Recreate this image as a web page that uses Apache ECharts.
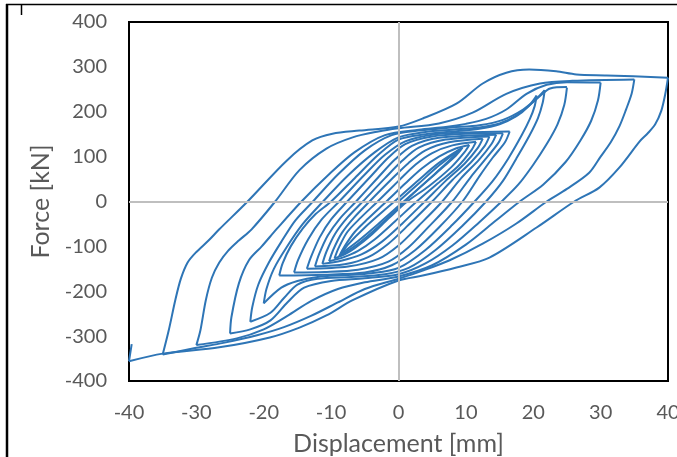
<!DOCTYPE html>
<html>
<head>
<meta charset="utf-8">
<script src="https://cdn.jsdelivr.net/npm/echarts@6/dist/echarts.min.js"></script>
<style>
  html, body { margin: 0; padding: 0; background: #fff; }
  #chart { width: 677px; height: 457px; }
</style>
</head>
<body>
<div id="chart"></div>
<script>
// axis ranges
const xMin = -40, xMax = 40, xStep = 10;
const yMin = -400, yMax = 400, yStep = 100;

// loading branches [displacement mm, force kN], from previous negative peak to positive peak
const loadingBranches = [
  [[0,0],[3,40],[6,80],[9,115]],
  [[-8.5,-116],[-7.5,-96],[-5,-58],[-2,-18],[0,8],[3,48],[6,86],[9.5,120]],
  [[-8.8,-122],[-8,-100],[-6.5,-68],[-4.5,-38],[-1.8,0],[1,40],[3.5,74],[6,100],[8.5,118],[10.5,126]],
  [[-9.5,-127],[-8.9,-104],[-7.6,-68],[-5.6,-36],[-3.1,0],[0,46],[2.5,82],[5,108],[8,125],[11.5,133]],
  [[-10.3,-133],[-9.7,-108],[-8.4,-70],[-6.6,-36],[-4.3,0],[-1,50],[1.5,86],[4,114],[7.5,132],[12.5,140]],
  [[-11.3,-139],[-10.7,-112],[-9.4,-72],[-7.6,-36],[-5.3,0],[-2,52],[0.5,90],[3,120],[7,138],[13.5,145]],
  [[-12.4,-145],[-11.8,-118],[-10.5,-76],[-8.7,-38],[-6.3,0],[-3,54],[-0.5,94],[2,124],[6,142],[14.5,149]],
  [[-13.6,-150],[-13,-124],[-11.7,-80],[-10,-40],[-7.6,0],[-4,58],[-1.5,98],[1,128],[5,145],[10,151],[15.5,152]],
  [[-15.5,-158],[-14.9,-130],[-13.4,-84],[-11.4,-40],[-8.8,0],[-5,60],[-2,104],[1,134],[5,149],[10,154],[16.5,156]],
  [[-17.7,-165],[-17.2,-138],[-16,-100],[-14.2,-60],[-12.3,-28],[-10,0],[-6.5,52],[-3,104],[0,138],[4,150],[8,156],[12,162],[15,172],[17.5,190],[19.3,212],[20.5,236]],
  [[-20,-227],[-19.6,-195],[-18.5,-150],[-16.7,-104],[-14.2,-50],[-11.2,0],[-7.5,58],[-3.5,110],[0,143],[4,155],[8,160],[12,165],[15,174],[17.5,192],[20,222],[21.7,248]],
  [[-22,-268],[-21.7,-235],[-20.8,-185],[-19.2,-135],[-17.4,-90],[-15.3,-42],[-12.7,0],[-9,60],[-5,114],[-1,148],[3,158],[8,165],[12,170],[15.5,182],[18.5,205],[21,235],[22.5,252],[25,255]],
  [[-25,-294],[-24.8,-258],[-23.7,-183],[-22.2,-131],[-20.3,-100],[-18,-60],[-14.4,0],[-10.5,58],[-6.5,110],[-2,148],[3,160],[7,166],[10,173],[13,184],[16,205],[19,240],[22,260],[25,266],[30,265]],
  [[-30,-320],[-29.4,-287],[-28.6,-220],[-27.7,-170],[-26.6,-136],[-25.3,-110],[-23.7,-87],[-21.8,-62],[-18.3,0],[-14.7,70],[-10.7,118],[-6.8,143],[-3,156],[0,163],[6,174],[11,198],[16,240],[21,263],[25.8,269],[35,272]],
  [[-35,-341],[-34.1,-287],[-33.1,-218],[-32.3,-172],[-31.3,-136],[-30.1,-114],[-28.2,-87],[-26.6,-62],[-22.4,0],[-16.6,91],[-12.8,136],[-9.8,151],[-5.8,158],[0,167],[3.6,185],[8.6,218],[12.5,263],[16,287],[19.4,294],[23.4,290],[26.4,283],[30.9,281],[40,276]],
  [[-40,-356],[-39.6,-318]]
];

// unloading branches, from positive peak to negative peak
const unloadingBranches = [
  [[9,115],[8,98],[5,56],[2,16],[0,-10],[-3,-50],[-6,-88],[-8.5,-116]],
  [[9.5,120],[8.5,102],[5.5,62],[2.5,22],[0,-14],[-3,-56],[-6,-94],[-8.8,-122]],
  [[10.5,126],[9.8,110],[7.8,76],[4.5,34],[1.3,0],[-1.5,-38],[-4,-74],[-6.5,-104],[-8,-118],[-9.5,-127]],
  [[11.5,133],[10.8,114],[8.8,78],[5.8,40],[2.7,0],[-0.5,-44],[-3.5,-84],[-6,-110],[-8.3,-125],[-10.3,-133]],
  [[12.5,140],[11.8,120],[9.8,84],[7,46],[3.9,0],[0.5,-50],[-2.5,-90],[-5.5,-118],[-8.5,-132],[-11.3,-139]],
  [[13.5,145],[12.8,124],[10.8,88],[8,48],[5,0],[1.5,-52],[-1.5,-94],[-4.5,-124],[-8,-140],[-12.4,-145]],
  [[14.5,149],[13.8,128],[12,94],[9.3,52],[6.5,0],[3,-54],[0,-98],[-3,-128],[-7.5,-145],[-13.6,-150]],
  [[15.5,152],[14.8,130],[13,96],[10.7,54],[8,0],[4.5,-56],[1.5,-102],[-1.5,-134],[-6,-152],[-11,-157],[-15.5,-158]],
  [[16.5,156],[15.8,132],[14,98],[12,56],[9.5,0],[6,-58],[2.5,-108],[-1,-142],[-5,-158],[-11,-163],[-17.7,-165]],
  [[20.5,236],[20.2,212],[19.5,184],[18.3,148],[16.3,96],[14,46],[11.3,0],[8,-52],[4,-108],[0,-148],[-4,-160],[-8,-164],[-12,-168],[-15,-177],[-17.4,-192],[-20,-227]],
  [[21.7,248],[21.4,220],[20.7,186],[19.4,146],[17.5,96],[15.5,46],[13,0],[9.5,-54],[5.5,-108],[1.5,-148],[-2,-162],[-7,-168],[-12,-172],[-15,-185],[-17,-215],[-19,-248],[-22,-268]],
  [[25,254],[24.6,215],[23.6,172],[22,128],[20,82],[17.8,38],[15.3,0],[12,-46],[8,-98],[4,-138],[0,-162],[-5,-171],[-10,-177],[-14,-192],[-16.5,-225],[-19,-265],[-22,-285],[-25,-294]],
  [[30,265],[29.6,225],[28.6,180],[27,136],[24.8,88],[21.5,38],[18,0],[14,-48],[10,-96],[5,-142],[0,-167],[-5,-180],[-9,-195],[-13,-222],[-16.5,-255],[-20,-285],[-24,-305],[-30,-320]],
  [[35,272],[34.6,240],[33.8,206],[32.8,168],[31.5,132],[30,100],[28.3,64],[25,28],[22,0],[17.5,-49],[12.5,-94],[7.6,-131],[3.6,-154],[0,-172],[-5,-195],[-9,-225],[-13,-255],[-17,-280],[-21,-298],[-26,-315],[-30,-326],[-35,-341]],
  [[40,276],[39.6,240],[39,202],[38.1,172],[37,152],[35.8,134],[32.8,76],[29.8,31],[26.1,0],[20.5,-58],[13.5,-125],[8.6,-147],[3.6,-165],[0,-176],[-6.8,-220],[-10.7,-254],[-14.7,-281],[-19.1,-303],[-26.6,-325],[-35,-339],[-40,-356]]
];

const lineColor = '#2e75b6';
const textColor = '#595959';
const fontFamily = 'Lato, "Open Sans", sans-serif';

function branchSeries(points) {
  return {
    type: 'line',
    data: points,
    smooth: 0.3,
    showSymbol: false,
    silent: true,
    lineStyle: { color: lineColor, width: 2 },
    z: 3
  };
}

const series = loadingBranches.map(branchSeries).concat(unloadingBranches.map(branchSeries));

// gray zero lines
series.push({
  type: 'line',
  data: [],
  markLine: {
    silent: true,
    symbol: ['none', 'none'],
    label: { show: false },
    lineStyle: { color: '#bfbfbf', width: 2, type: 'solid' },
    data: [{ xAxis: 0 }, { yAxis: 0 }]
  },
  z: 1
});

const chart = echarts.init(document.getElementById('chart'));
chart.setOption({
  animation: false,
  backgroundColor: '#fff',
  grid: {
    left: 129, right: 9, top: 22, bottom: 76,
    containLabel: false,
    outerBoundsMode: 'none',
    show: true,
    borderColor: '#000',
    borderWidth: 2
  },
  xAxis: {
    type: 'value',
    min: xMin, max: xMax, interval: xStep,
    name: 'Displacement [mm]',
    nameLocation: 'middle',
    nameGap: 50,
    nameTextStyle: { color: textColor, fontSize: 25, fontFamily: fontFamily },
    axisLine: { show: false },
    axisTick: { show: false },
    splitLine: { show: false },
    axisLabel: { color: textColor, fontSize: 20, margin: 22, fontFamily: fontFamily }
  },
  yAxis: {
    type: 'value',
    min: yMin, max: yMax, interval: yStep,
    name: 'Force [kN]',
    nameLocation: 'middle',
    nameGap: 76,
    nameTextStyle: { color: textColor, fontSize: 25, fontFamily: fontFamily },
    axisLine: { show: false },
    axisTick: { show: false },
    splitLine: { show: false },
    axisLabel: { color: textColor, fontSize: 20, margin: 22, fontFamily: fontFamily }
  },
  graphic: [
    { type: 'line', shape: { x1: 6, y1: 4.5, x2: 677, y2: 4.5 }, style: { stroke: '#000', lineWidth: 1.5 } },
    { type: 'line', shape: { x1: 7, y1: 4, x2: 7, y2: 457 }, style: { stroke: '#000', lineWidth: 2.5 } },
    { type: 'line', shape: { x1: 21.5, y1: 5, x2: 21.5, y2: 15 }, style: { stroke: '#000', lineWidth: 1.5 } }
  ],
  series: series
});
</script>
</body>
</html>
